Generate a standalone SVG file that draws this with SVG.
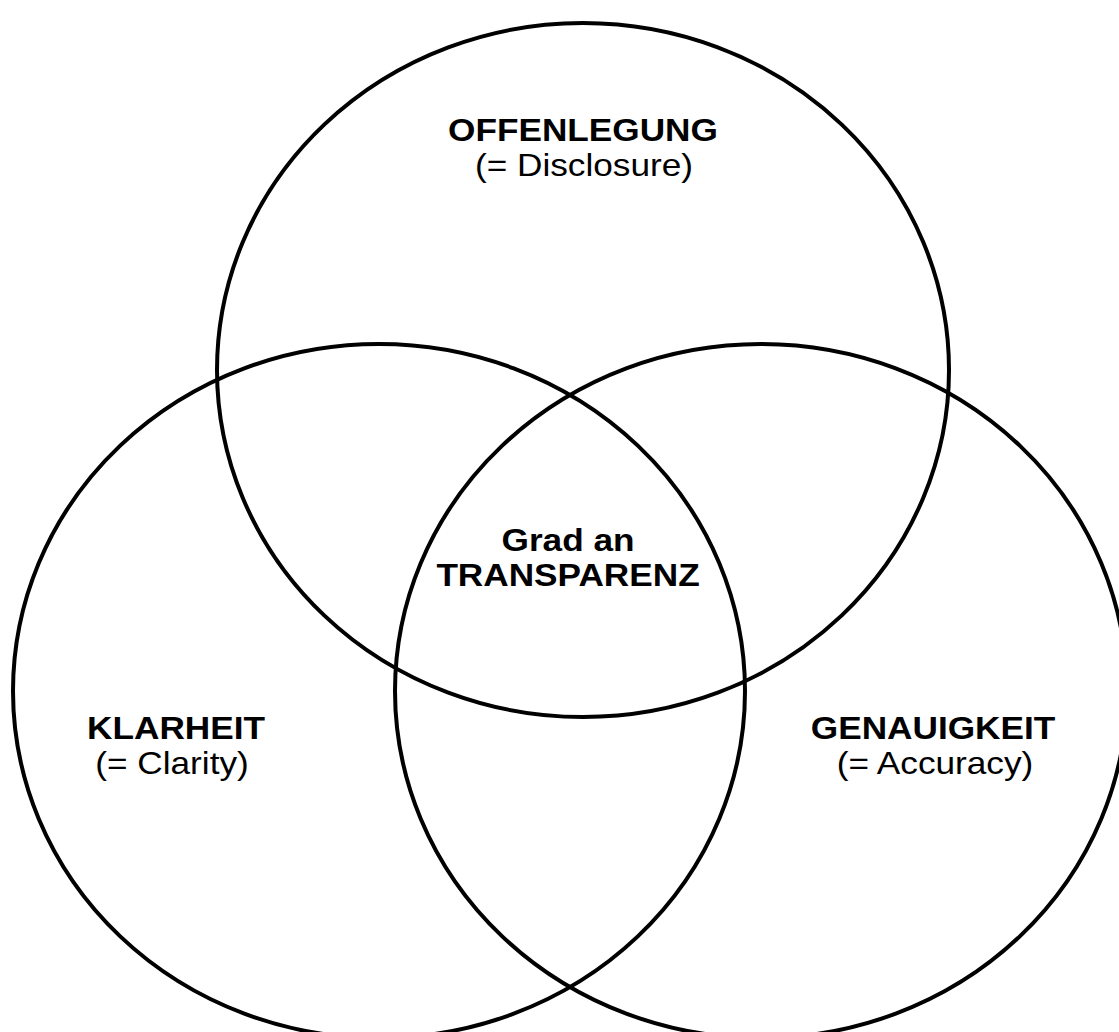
<svg xmlns="http://www.w3.org/2000/svg" width="1119" height="1032" viewBox="0 0 1119 1032">
<style>
.c{fill:none;stroke:#000;stroke-width:4}
.b{font-family:"Liberation Sans",Arial,sans-serif;font-weight:bold;font-size:32px;text-anchor:middle;fill:#000}
.r{font-family:"Liberation Sans",Arial,sans-serif;font-size:32px;text-anchor:middle;fill:#000}
</style>
<rect width="1119" height="1032" fill="#fff"/>
<g id="offenlegung">
<ellipse class="c" cx="583" cy="370" rx="366" ry="347"/>
<text class="b" transform="translate(583 141) scale(1.1 1)">OFFENLEGUNG</text>
<text class="r" transform="translate(584 176) scale(1.1 1)">(= Disclosure)</text>
</g>
<g id="klarheit">
<ellipse class="c" cx="379" cy="691" rx="366" ry="347"/>
<text class="b" transform="translate(176 739) scale(1.1 1)">KLARHEIT</text>
<text class="r" transform="translate(172 774) scale(1.1 1)">(= Clarity)</text>
</g>
<g id="genauigkeit">
<ellipse class="c" cx="761" cy="691" rx="366" ry="347"/>
<text class="b" transform="translate(933 739) scale(1.1 1)">GENAUIGKEIT</text>
<text class="r" transform="translate(935 774) scale(1.1 1)">(= Accuracy)</text>
</g>
<g id="transparenz">
<text class="b" transform="translate(568 551) scale(1.1 1)">Grad an</text>
<text class="b" transform="translate(568 586) scale(1.1 1)">TRANSPARENZ</text>
</g>
<g id="connectors"></g>
</svg>
